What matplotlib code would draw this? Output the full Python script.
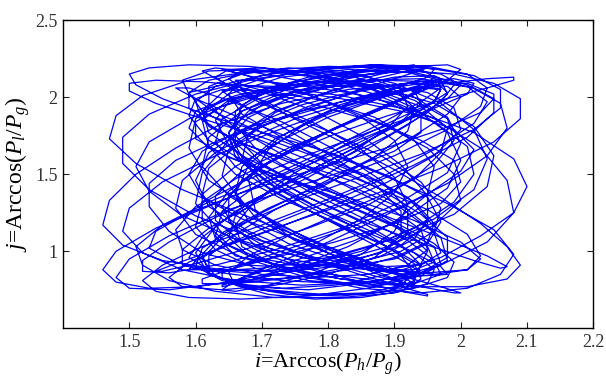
import matplotlib
matplotlib.use('Agg')
import matplotlib.pyplot as plt

plt.rcParams['font.family'] = 'Liberation Serif'
plt.rcParams['mathtext.fontset'] = 'custom'
plt.rcParams['mathtext.rm'] = 'Liberation Serif'
plt.rcParams['mathtext.it'] = 'Liberation Serif:italic'

# trajectory: i = Arccos(Ph/Pg)
i_vals = [
1.78, 1.85, 1.92, 1.97, 1.99, 1.96, 1.90, 1.81, 1.72, 1.65, 1.61, 1.60, 1.64, 1.71,
1.79, 1.87, 1.94, 1.98, 1.97, 1.92, 1.84, 1.75, 1.67, 1.62, 1.61, 1.65, 1.72,
1.80, 1.88, 1.96, 2.02, 2.05, 2.03, 1.97, 1.88, 1.77, 1.67, 1.59, 1.54, 1.53, 1.57, 1.64,
1.73, 1.82, 1.89, 1.93, 1.94, 1.90, 1.83, 1.76, 1.70, 1.67, 1.68, 1.72,
1.79, 1.86, 1.92, 1.95, 1.93, 1.87, 1.79, 1.70, 1.63, 1.58, 1.57, 1.60, 1.67,
1.76, 1.85, 1.94, 2.01, 2.06, 2.08, 2.05, 1.98, 1.88, 1.77, 1.67, 1.60, 1.57, 1.59, 1.65,
1.73, 1.81, 1.88, 1.92, 1.92, 1.88, 1.81, 1.73, 1.66, 1.63, 1.64, 1.69,
1.77, 1.85, 1.93, 1.98, 2.00, 1.97, 1.90, 1.80, 1.69, 1.59, 1.52, 1.48, 1.47, 1.51, 1.58, 1.67,
1.76, 1.84, 1.90, 1.93, 1.91, 1.86, 1.79, 1.72, 1.67, 1.66, 1.69, 1.75,
1.82, 1.89, 1.95, 1.98, 1.97, 1.92, 1.84, 1.75, 1.67, 1.62, 1.61, 1.64, 1.70,
1.78, 1.87, 1.95, 2.01, 2.03, 2.00, 1.93, 1.83, 1.73, 1.65, 1.60, 1.60, 1.64, 1.71,
1.79, 1.86, 1.91, 1.92, 1.89, 1.83, 1.76, 1.70, 1.66, 1.66, 1.70, 1.77,
1.84, 1.91, 1.96, 1.97, 1.93, 1.86, 1.77, 1.67, 1.59, 1.54, 1.52, 1.55, 1.61, 1.70,
1.79, 1.88, 1.96, 2.02, 2.04, 2.01, 1.94, 1.85, 1.75, 1.67, 1.62, 1.61, 1.65, 1.72,
1.80, 1.87, 1.92, 1.94, 1.92, 1.87, 1.80, 1.72, 1.66, 1.63, 1.64, 1.69, 1.76,
1.84, 1.92, 1.99, 2.05, 2.09, 2.09, 2.05, 1.97, 1.87, 1.76, 1.66, 1.59, 1.56, 1.58, 1.64,
1.72, 1.80, 1.87, 1.91, 1.91, 1.87, 1.80, 1.73, 1.67, 1.64, 1.66, 1.71,
1.78, 1.85, 1.91, 1.95, 1.95, 1.91, 1.84, 1.76, 1.68, 1.61, 1.56, 1.53, 1.53, 1.57, 1.64,
1.73, 1.82, 1.90, 1.95, 1.96, 1.93, 1.87, 1.79, 1.72, 1.67, 1.66, 1.69, 1.75,
1.83, 1.90, 1.96, 1.99, 1.98, 1.93, 1.85, 1.76, 1.68, 1.63, 1.61, 1.64, 1.70,
1.78, 1.86, 1.93, 1.98, 2.00, 1.98, 1.92, 1.83, 1.73, 1.64, 1.57, 1.51, 1.47, 1.46, 1.49, 1.55, 1.64,
1.74, 1.83, 1.91, 1.96, 1.97, 1.94, 1.88, 1.80, 1.72, 1.66, 1.63, 1.65, 1.70,
1.78, 1.86, 1.93, 1.98, 2.00, 1.98, 1.92, 1.84, 1.75, 1.68, 1.64, 1.64, 1.68, 1.75,
1.83, 1.90, 1.95, 1.96, 1.93, 1.87, 1.79, 1.71, 1.64, 1.60, 1.59, 1.62, 1.69,
1.77, 1.86, 1.95, 2.02, 2.06, 2.07, 2.04, 1.97, 1.88, 1.78, 1.69, 1.62, 1.59, 1.60, 1.66,
1.74, 1.82, 1.89, 1.93, 1.93, 1.89, 1.82, 1.74, 1.68, 1.65, 1.67, 1.72,
1.79, 1.87, 1.93, 1.96, 1.95, 1.90, 1.82, 1.72, 1.63, 1.56, 1.52, 1.51, 1.55, 1.62, 1.71,
1.80, 1.88, 1.94, 1.97, 1.96, 1.91, 1.84, 1.77, 1.71, 1.68, 1.69, 1.74,
1.81, 1.89, 1.96, 2.01, 2.03, 2.01, 1.95, 1.86, 1.76, 1.67, 1.61, 1.59, 1.62, 1.68,
1.76, 1.84, 1.90, 1.93, 1.92, 1.87, 1.80, 1.72, 1.66, 1.62, 1.62, 1.66, 1.73,
1.81, 1.89, 1.97, 2.03, 2.08, 2.10, 2.08, 2.02, 1.93, 1.82, 1.72, 1.64, 1.59, 1.59, 1.63, 1.70,
1.78, 1.86, 1.92, 1.95, 1.94, 1.89, 1.82, 1.74, 1.67, 1.63, 1.63, 1.67, 1.74,
1.82, 1.89, 1.94, 1.96, 1.94, 1.88, 1.79, 1.69, 1.60, 1.53, 1.49, 1.49, 1.53, 1.60, 1.69,
1.78, 1.87, 1.94, 1.99, 2.00, 1.97, 1.91, 1.83, 1.75, 1.69, 1.66, 1.67, 1.72,
1.80, 1.88, 1.94, 1.97, 1.96, 1.91, 1.83, 1.74, 1.66, 1.61, 1.59, 1.62, 1.68,
1.76, 1.85, 1.93, 1.99, 2.02, 2.01, 1.96, 1.88, 1.78, 1.69, 1.63, 1.61, 1.64, 1.70,
1.78, 1.85, 1.90, 1.92, 1.90, 1.85, 1.78, 1.71, 1.66, 1.64, 1.66, 1.72,
1.80, 1.88, 1.95, 2.00, 2.02, 1.99, 1.92, 1.82, 1.71, 1.61, 1.54, 1.50, 1.50, 1.54, 1.61, 1.70,
1.79, 1.87, 1.93, 1.96, 1.95, 1.90, 1.83, 1.75, 1.68, 1.64, 1.64, 1.68, 1.75,
1.83, 1.91, 1.98, 2.04, 2.07, 2.06, 2.01, 1.93, 1.83, 1.73, 1.65, 1.60, 1.59, 1.62, 1.69,
1.77, 1.84, 1.90, 1.93, 1.92, 1.87, 1.80, 1.73, 1.67, 1.64, 1.65, 1.70,
1.77, 1.85, 1.93, 1.99, 2.02, 2.01, 1.95, 1.86, 1.76, 1.67, 1.60, 1.57, 1.58, 1.63, 1.70,
1.78, 1.86, 1.92, 1.95, 1.94, 1.89, 1.81, 1.73, 1.66, 1.62, 1.62, 1.67, 1.74,
1.82, 1.90, 1.97, 2.02, 2.04, 2.02, 1.96, 1.87, 1.76, 1.65, 1.56, 1.50, 1.48, 1.50, 1.56, 1.65,
1.74, 1.83, 1.90, 1.94, 1.94, 1.90, 1.83, 1.75, 1.69, 1.66, 1.67, 1.72,
1.79, 1.87, 1.94, 1.99, 2.00, 1.97, 1.90, 1.81, 1.72, 1.65, 1.61, 1.61, 1.66, 1.73,
1.81, 1.88, 1.93, 1.95, 1.92, 1.86, 1.78, 1.70, 1.63, 1.59, 1.58, 1.62, 1.69,
1.78, 1.87, 1.96, 2.03, 2.07, 2.08, 2.04, 1.97, 1.87, 1.77, 1.68, 1.62, 1.60, 1.63, 1.69,
1.77, 1.85, 1.91, 1.94, 1.93, 1.88, 1.81, 1.74, 1.68, 1.65, 1.66, 1.71,
1.78, 1.86, 1.93, 1.97, 1.98, 1.94, 1.86, 1.76, 1.66, 1.58, 1.53, 1.51, 1.53, 1.59, 1.67,
1.76, 1.85, 1.93, 1.98, 2.00, 1.98, 1.92, 1.84, 1.76, 1.69, 1.65, 1.65, 1.69,
1.76, 1.84, 1.91, 1.95, 1.95, 1.91, 1.84, 1.76, 1.68, 1.62, 1.60, 1.62, 1.68,
1.76, 1.85, 1.94, 2.01, 2.05, 2.05, 2.01, 1.93, 1.83, 1.73, 1.65, 1.60, 1.59, 1.63, 1.70,
1.78, 1.85, 1.90, 1.92, 1.90, 1.85, 1.78, 1.71, 1.66, 1.64, 1.67, 1.73,
1.80, 1.88, 1.95, 1.99, 2.00, 1.96, 1.89, 1.79, 1.69, 1.60, 1.53, 1.48, 1.46, 1.48, 1.54, 1.63,
1.73, 1.83, 1.91, 1.96, 1.97, 1.94, 1.88, 1.80, 1.73, 1.68, 1.66, 1.68, 1.74,
1.81, 1.88, 1.94, 1.97, 1.96, 1.91, 1.83, 1.74, 1.66, 1.61, 1.60, 1.63, 1.70,
1.78, 1.87, 1.95, 2.02, 2.06, 2.06, 2.02, 1.94, 1.84, 1.74, 1.66, 1.61, 1.60, 1.64, 1.71,
1.79, 1.86, 1.91, 1.93, 1.91, 1.86, 1.79, 1.72, 1.67, 1.65, 1.67, 1.72,
1.80, 1.88, 1.95, 1.99, 2.00, 1.96, 1.89, 1.80, 1.71, 1.63, 1.57, 1.54, 1.55, 1.60, 1.68,
1.77, 1.86, 1.93, 1.97, 1.98, 1.94, 1.87, 1.79, 1.72, 1.67, 1.65, 1.68, 1.74,
1.82, 1.90, 1.97, 2.03, 2.07, 2.09, 2.07, 2.01, 1.92, 1.82, 1.72, 1.65, 1.61, 1.61, 1.66, 1.73,
1.80, 1.87, 1.92, 1.94, 1.92, 1.86, 1.79, 1.71, 1.65, 1.62, 1.63, 1.68, 1.75,
1.83, 1.90, 1.95, 1.97, 1.95, 1.89, 1.81, 1.71, 1.62, 1.55, 1.51, 1.50, 1.53, 1.59, 1.68,
1.77, 1.86, 1.93, 1.98, 1.99, 1.96, 1.90, 1.82, 1.74, 1.68, 1.65, 1.66, 1.71,
1.78, 1.85, 1.91, 1.94, 1.93, 1.88, 1.81, 1.73, 1.66, 1.62, 1.61, 1.65, 1.72,
1.80, 1.88, 1.96, 2.02, 2.05, 2.04, 1.99, 1.90, 1.80, 1.70, 1.62, 1.58, 1.58, 1.62, 1.69,
1.77, 1.84, 1.89, 1.92, 1.91, 1.86, 1.79, 1.72, 1.67, 1.65, 1.67, 1.73,
1.80, 1.88, 1.94, 1.98, 1.98, 1.94, 1.86, 1.76, 1.66, 1.58, 1.52, 1.49, 1.50, 1.55, 1.63,
1.72, 1.81, 1.89, 1.94, 1.96, 1.94, 1.89, 1.81, 1.73, 1.67, 1.64, 1.66, 1.71,
1.79, 1.87, 1.93, 1.96, 1.95, 1.90, 1.82, 1.74, 1.67, 1.62, 1.61, 1.64, 1.70,
1.78, 1.87, 1.95, 2.01, 2.04, 2.03, 1.98, 1.90, 1.80, 1.71, 1.64, 1.61, 1.62, 1.67, 1.74,
1.82, 1.89, 1.93, 1.94, 1.91, 1.85, 1.77, 1.70, 1.65, 1.63, 1.65, 1.71,
1.78, 1.86, 1.93, 1.98, 2.00, 1.98, 1.91, 1.82, 1.72, 1.63, 1.56, 1.52, 1.52, 1.56, 1.63, 1.72,
1.81, 1.89, 1.95, 1.98, 1.97, 1.92, 1.85, 1.77, 1.70, 1.66, 1.66, 1.70,
1.77, 1.85, 1.92, 1.96, 1.97, 1.93, 1.86, 1.77, 1.69, 1.63, 1.60, 1.61, 1.66, 1.73,
1.81, 1.89, 1.97, 2.04, 2.08, 2.08, 2.04, 1.96, 1.86, 1.76, 1.67, 1.61, 1.59, 1.61, 1.67,
1.75, 1.83, 1.89, 1.93, 1.93, 1.89, 1.82, 1.74, 1.68, 1.65, 1.66, 1.71,
1.78, 1.86, 1.93, 1.97, 1.98, 1.94, 1.87, 1.78, 1.68, 1.60, 1.54, 1.51, 1.52, 1.57, 1.65,
1.74, 1.83, 1.91, 1.96, 1.97, 1.94, 1.88, 1.80, 1.73, 1.68, 1.67, 1.70, 1.76,
]

# j = Arccos(Pl/Pg)
j_vals = [
1.45, 1.64, 1.82, 1.97, 2.08, 2.14, 2.13, 2.05, 1.91, 1.72, 1.51, 1.31, 1.12, 0.97, 0.86, 0.81, 0.84, 0.94, 1.09, 1.27,
1.45, 1.58, 1.70, 1.81, 1.91, 1.99, 2.05, 2.09, 2.11, 2.10, 2.06, 1.99, 1.90, 1.79, 1.66, 1.52, 1.38, 1.25, 1.13, 1.02, 0.93, 0.86, 0.81, 0.79, 0.80, 0.84, 0.91, 1.01, 1.14, 1.29,
1.44, 1.60, 1.76, 1.90, 2.02, 2.11, 2.17, 2.19, 2.16, 2.08, 1.96, 1.81, 1.64, 1.46, 1.28, 1.11, 0.96, 0.84, 0.76, 0.73, 0.76, 0.85, 0.98, 1.14,
1.31, 1.50, 1.69, 1.86, 1.99, 2.06, 2.06, 1.98, 1.84, 1.66, 1.46, 1.27, 1.11, 0.99, 0.92, 0.91, 0.97, 1.10,
1.26, 1.42, 1.58, 1.73, 1.87, 1.99, 2.08, 2.15, 2.19, 2.20, 2.17, 2.11, 2.01, 1.88, 1.73, 1.57, 1.40, 1.24, 1.09, 0.96, 0.86, 0.79, 0.76, 0.77, 0.82, 0.91, 1.03, 1.17,
1.33, 1.51, 1.68, 1.83, 1.95, 2.03, 2.07, 2.05, 1.98, 1.86, 1.71, 1.54, 1.37, 1.21, 1.07, 0.96, 0.89, 0.86, 0.88, 0.95, 1.06, 1.20,
1.35, 1.48, 1.61, 1.73, 1.84, 1.94, 2.03, 2.10, 2.15, 2.18, 2.19, 2.17, 2.12, 2.05, 1.95, 1.83, 1.70, 1.56, 1.42, 1.28, 1.15, 1.03, 0.92, 0.83, 0.76, 0.71, 0.69, 0.70, 0.74, 0.81, 0.91, 1.03, 1.17, 1.32,
1.48, 1.66, 1.83, 1.97, 2.07, 2.12, 2.11, 2.04, 1.91, 1.74, 1.55, 1.36, 1.18, 1.03, 0.92, 0.86, 0.86, 0.92, 1.04, 1.20,
1.38, 1.55, 1.71, 1.86, 1.98, 2.08, 2.14, 2.17, 2.15, 2.09, 1.99, 1.86, 1.71, 1.54, 1.37, 1.21, 1.06, 0.93, 0.83, 0.77, 0.75, 0.78, 0.85, 0.96, 1.10, 1.26,
1.44, 1.63, 1.81, 1.95, 2.04, 2.07, 2.02, 1.91, 1.75, 1.56, 1.36, 1.18, 1.04, 0.94, 0.89, 0.91, 0.99, 1.13,
1.29, 1.44, 1.59, 1.73, 1.86, 1.97, 2.06, 2.13, 2.18, 2.20, 2.19, 2.14, 2.06, 1.95, 1.82, 1.67, 1.51, 1.35, 1.19, 1.05, 0.93, 0.83, 0.76, 0.72, 0.72, 0.76, 0.84, 0.95, 1.09, 1.25,
1.42, 1.59, 1.75, 1.89, 2.00, 2.07, 2.09, 2.05, 1.96, 1.83, 1.67, 1.50, 1.33, 1.17, 1.04, 0.94, 0.88, 0.87, 0.91, 1.00, 1.13, 1.28,
1.45, 1.62, 1.78, 1.92, 2.04, 2.13, 2.18, 2.19, 2.15, 2.06, 1.93, 1.77, 1.59, 1.41, 1.23, 1.07, 0.94, 0.84, 0.78, 0.77, 0.81, 0.90, 1.03, 1.19,
1.37, 1.55, 1.72, 1.87, 1.98, 2.04, 2.05, 1.99, 1.88, 1.72, 1.54, 1.35, 1.18, 1.04, 0.94, 0.89, 0.90, 0.97, 1.09, 1.24,
1.40, 1.54, 1.67, 1.80, 1.91, 2.01, 2.09, 2.15, 2.19, 2.21, 2.20, 2.16, 2.09, 1.99, 1.87, 1.73, 1.58, 1.42, 1.27, 1.12, 0.99, 0.88, 0.79, 0.73, 0.70, 0.70, 0.74, 0.81, 0.91, 1.03, 1.17, 1.32,
1.48, 1.66, 1.83, 1.97, 2.06, 2.10, 2.07, 1.98, 1.84, 1.66, 1.46, 1.27, 1.10, 0.97, 0.88, 0.85, 0.88, 0.97, 1.11,
1.27, 1.44, 1.61, 1.77, 1.91, 2.03, 2.11, 2.16, 2.17, 2.13, 2.05, 1.93, 1.78, 1.61, 1.44, 1.27, 1.11, 0.97, 0.86, 0.79, 0.76, 0.78, 0.85, 0.96, 1.10, 1.25,
1.42, 1.60, 1.77, 1.91, 2.01, 2.07, 2.08, 2.03, 1.93, 1.79, 1.62, 1.44, 1.27, 1.12, 1.00, 0.92, 0.88, 0.89, 0.95, 1.06, 1.20, 1.36,
1.52, 1.67, 1.81, 1.94, 2.05, 2.13, 2.18, 2.20, 2.18, 2.12, 2.02, 1.89, 1.74, 1.57, 1.40, 1.23, 1.08, 0.95, 0.84, 0.77, 0.73, 0.73, 0.77, 0.84, 0.94, 1.07, 1.22, 1.38,
1.55, 1.73, 1.89, 2.00, 2.06, 2.05, 1.97, 1.83, 1.65, 1.45, 1.26, 1.09, 0.96, 0.88, 0.86, 0.90, 1.00, 1.15,
1.32, 1.50, 1.68, 1.84, 1.98, 2.09, 2.16, 2.19, 2.17, 2.10, 1.98, 1.83, 1.66, 1.48, 1.30, 1.13, 0.98, 0.86, 0.78, 0.74, 0.75, 0.81, 0.92, 1.06,
1.22, 1.37, 1.52, 1.66, 1.79, 1.90, 1.99, 2.06, 2.10, 2.11, 2.09, 2.04, 1.96, 1.86, 1.74, 1.60, 1.46, 1.32, 1.18, 1.06, 0.96, 0.88, 0.83, 0.81, 0.82, 0.86, 0.93, 1.03, 1.15, 1.29,
1.44, 1.62, 1.80, 1.96, 2.08, 2.16, 2.18, 2.13, 2.02, 1.86, 1.67, 1.46, 1.26, 1.08, 0.93, 0.82, 0.77, 0.78, 0.86, 0.99,
1.15, 1.32, 1.49, 1.66, 1.81, 1.94, 2.04, 2.10, 2.12, 2.09, 2.02, 1.91, 1.77, 1.61, 1.45, 1.29, 1.14, 1.01, 0.91, 0.85, 0.83, 0.85, 0.91, 1.01, 1.14, 1.29,
1.46, 1.63, 1.80, 1.95, 2.07, 2.15, 2.19, 2.17, 2.09, 1.96, 1.79, 1.60, 1.40, 1.21, 1.04, 0.90, 0.80, 0.75, 0.76, 0.83, 0.95, 1.10,
1.27, 1.40, 1.53, 1.65, 1.77, 1.87, 1.96, 2.03, 2.08, 2.11, 2.11, 2.08, 2.02, 1.94, 1.84, 1.72, 1.59, 1.45, 1.31, 1.18, 1.06, 0.96, 0.88, 0.82, 0.79, 0.79, 0.82, 0.88, 0.97, 1.08, 1.21, 1.35, 1.49, 1.63,
1.77, 1.90, 2.02, 2.11, 2.17, 2.18, 2.13, 2.02, 1.86, 1.67, 1.46, 1.25, 1.06, 0.91, 0.80, 0.75, 0.77, 0.85, 0.99,
1.16, 1.34, 1.52, 1.69, 1.84, 1.96, 2.04, 2.08, 2.07, 2.01, 1.91, 1.77, 1.61, 1.44, 1.27, 1.12, 0.99, 0.90, 0.85, 0.84, 0.88, 0.96, 1.08, 1.23,
1.39, 1.55, 1.71, 1.86, 1.99, 2.09, 2.16, 2.20, 2.21, 2.18, 2.11, 2.00, 1.86, 1.70, 1.53, 1.36, 1.19, 1.04, 0.91, 0.81, 0.74, 0.71, 0.72, 0.77, 0.86, 0.98, 1.13, 1.29,
1.46, 1.64, 1.81, 1.95, 2.05, 2.10, 2.09, 2.02, 1.90, 1.74, 1.56, 1.37, 1.20, 1.05, 0.94, 0.88, 0.88, 0.94, 1.05, 1.21,
1.38, 1.55, 1.72, 1.87, 2.00, 2.10, 2.16, 2.18, 2.15, 2.08, 1.97, 1.83, 1.67, 1.50, 1.33, 1.17, 1.03, 0.91, 0.82, 0.77, 0.76, 0.80, 0.88, 1.00, 1.15, 1.31,
1.49, 1.67, 1.84, 1.97, 2.05, 2.07, 2.02, 1.91, 1.75, 1.56, 1.37, 1.19, 1.05, 0.95, 0.90, 0.91, 0.99, 1.12,
1.28, 1.43, 1.58, 1.72, 1.85, 1.97, 2.07, 2.14, 2.19, 2.21, 2.19, 2.14, 2.05, 1.93, 1.79, 1.63, 1.47, 1.31, 1.16, 1.02, 0.90, 0.81, 0.75, 0.72, 0.73, 0.78, 0.86, 0.97, 1.11, 1.27,
1.44, 1.61, 1.77, 1.91, 2.01, 2.07, 2.08, 2.03, 1.93, 1.79, 1.62, 1.45, 1.28, 1.13, 1.01, 0.92, 0.87, 0.87, 0.92, 1.02, 1.15, 1.30,
1.47, 1.64, 1.80, 1.94, 2.05, 2.13, 2.17, 2.17, 2.12, 2.02, 1.88, 1.71, 1.53, 1.35, 1.18, 1.03, 0.91, 0.82, 0.77, 0.77, 0.82, 0.91, 1.04, 1.20,
1.37, 1.55, 1.72, 1.87, 1.98, 2.05, 2.06, 2.01, 1.90, 1.75, 1.57, 1.39, 1.22, 1.08, 0.97, 0.91, 0.90, 0.95, 1.05, 1.19,
1.35, 1.49, 1.63, 1.76, 1.88, 1.99, 2.08, 2.15, 2.19, 2.21, 2.20, 2.16, 2.08, 1.98, 1.86, 1.72, 1.56, 1.40, 1.25, 1.10, 0.97, 0.86, 0.78, 0.72, 0.69, 0.70, 0.74, 0.82, 0.92, 1.05, 1.19, 1.34,
1.50, 1.68, 1.85, 1.98, 2.07, 2.10, 2.06, 1.96, 1.81, 1.62, 1.42, 1.24, 1.08, 0.96, 0.89, 0.87, 0.91, 1.01, 1.15,
1.31, 1.48, 1.65, 1.80, 1.94, 2.05, 2.13, 2.17, 2.16, 2.11, 2.02, 1.89, 1.74, 1.57, 1.40, 1.24, 1.09, 0.96, 0.86, 0.80, 0.78, 0.81, 0.88, 0.99, 1.13, 1.28,
1.45, 1.62, 1.78, 1.92, 2.02, 2.08, 2.09, 2.04, 1.94, 1.80, 1.63, 1.46, 1.29, 1.14, 1.02, 0.93, 0.88, 0.88, 0.93, 1.03, 1.16, 1.31,
1.47, 1.62, 1.77, 1.91, 2.03, 2.12, 2.18, 2.21, 2.20, 2.15, 2.06, 1.94, 1.79, 1.62, 1.45, 1.28, 1.12, 0.98, 0.86, 0.77, 0.72, 0.71, 0.74, 0.81, 0.91, 1.04, 1.19, 1.35,
1.52, 1.69, 1.85, 1.97, 2.06, 2.10, 2.08, 2.00, 1.87, 1.70, 1.51, 1.32, 1.15, 1.01, 0.91, 0.86, 0.87, 0.94, 1.06, 1.22,
1.40, 1.58, 1.75, 1.90, 2.02, 2.11, 2.16, 2.17, 2.13, 2.04, 1.91, 1.75, 1.57, 1.39, 1.22, 1.07, 0.94, 0.85, 0.79, 0.78, 0.81, 0.89, 1.01, 1.16,
1.32, 1.47, 1.62, 1.76, 1.88, 1.98, 2.06, 2.11, 2.13, 2.12, 2.08, 2.01, 1.91, 1.79, 1.65, 1.50, 1.35, 1.21, 1.08, 0.97, 0.88, 0.82, 0.79, 0.79, 0.82, 0.88, 0.97, 1.09, 1.23, 1.38,
]

x_ticks = [1.5, 1.6, 1.7, 1.8, 1.9, 2.0, 2.1, 2.2]
x_ticklabels = ['1.5', '1.6', '1.7', '1.8', '1.9', '2', '2.1', '2.2']
y_ticks = [1.0, 1.5, 2.0, 2.5]
y_ticklabels = ['1', '1.5', '2', '2.5']

n = min(len(i_vals), len(j_vals))

fig = plt.figure(figsize=(6.06, 3.8), dpi=100)
ax = fig.add_axes([0.104, 0.136, 0.875, 0.811])
ax.plot(i_vals[:n], j_vals[:n], color='#0000ff', lw=0.9)

ax.set_xlim(1.4, 2.2)
ax.set_ylim(0.5, 2.5)
ax.set_xticks(x_ticks)
ax.set_xticklabels(x_ticklabels)
ax.set_yticks(y_ticks)
ax.set_yticklabels(y_ticklabels)
ax.tick_params(direction='in', top=True, right=True, length=4, width=0.8,
               labelsize=13, colors='#222222', labelcolor='#333333', pad=4)
for s in ax.spines.values():
    s.set_linewidth(1.0)

ax.set_xlabel('$i$=Arccos($P_h/P_g$)', fontsize=16, labelpad=0)
ax.set_ylabel('$j$=Arccos($P_l/P_g$)', fontsize=17, labelpad=2)

fig.savefig('out.png', dpi=100)
